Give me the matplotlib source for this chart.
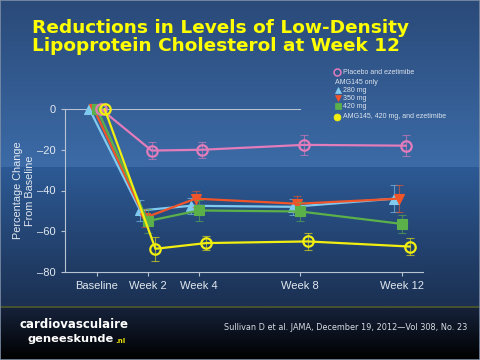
import numpy as np
import matplotlib
matplotlib.use("Agg")
import matplotlib.pyplot as plt
from matplotlib.lines import Line2D
from matplotlib.patches import Rectangle

# data (percentage change from baseline)
weeks = [0, 2, 4, 8, 12]
xlabels = ["Baseline", "Week 2", "Week 4", "Week 8", "Week 12"]
placebo = [0, -20.4, -20.0, -17.6, -18.0]
placebo_err = [0, 4.3, 4.0, 4.8, 5.0]
mg280 = [0, -49.8, -47.5, -48.0, -44.0]
mg280_err = [0, 5.0, 4.0, 4.0, 6.5]
mg350 = [0, -53.4, -44.0, -46.5, -44.0]
mg350_err = [0, 4.5, 4.0, 4.0, 6.5]
mg420 = [0, -55.0, -49.8, -50.3, -56.4]
mg420_err = [0, 6.0, 5.0, 4.5, 4.5]
combo = [0, -68.6, -65.8, -65.0, -67.5]
combo_err = [0, 6.0, 3.5, 4.0, 4.0]

W, H = 480, 360
fig = plt.figure(figsize=(4.8, 3.6), dpi=100)
ARIAL = ["Liberation Sans", "DejaVu Sans"]

# background gradient
def hx(c):
    c = c.lstrip("#")
    return np.array([int(c[i:i+2], 16) for i in (0, 2, 4)]) / 255.0

img = np.zeros((H, 1, 3))
for r in range(H):
    if r <= 166:
        t = r / 166
        c = hx("#2a4a79") * (1 - t) + hx("#3c6ba7") * t
    elif r <= 305:
        t = (r - 167) / 138
        c = hx("#2d5a95") * (1 - t) + hx("#1b3052") * t
    elif r <= 307:
        c = hx("#46522f")
    else:
        t = (r - 308) / 50
        c = hx("#16223a") * (1 - t) + hx("#000000") * t
    img[r, 0] = c
bg = fig.add_axes([0, 0, 1, 1], zorder=-1)
bg.imshow(img, aspect="auto", extent=[0, 1, 0, 1], interpolation="bilinear")
bg.set_xlim(0, 1)
bg.set_ylim(0, 1)
bg.axis("off")
bg.add_patch(Rectangle((0, 0), 1, 1, fill=False, ec="#7d8ea6", lw=1.2))

# title
fig.text(32 / W, 1 - 19 / H, "Reductions in Levels of Low-Density\nLipoprotein Cholesterol at Week 12",
         color="#ffff00", fontsize=13.3, fontweight="bold", va="top", ha="left", linespacing=1.0)

# main axes
ax = fig.add_axes([65 / W, (H - 272) / H, (423 - 65) / W, 163 / H])
ax.patch.set_alpha(0)
ax.set_xlim(-1.26, 12.83)
ax.set_ylim(-80, 0)

axcol = "#b9c4d2"
for s in ["top", "right"]:
    ax.spines[s].set_visible(False)
for s in ["left", "bottom"]:
    ax.spines[s].set_color(axcol)
    ax.spines[s].set_linewidth(0.8)
ax.axhline(0, xmin=0, xmax=(8.0 + 1.26) / 14.09, color=axcol, lw=0.8, zorder=1)

ax.set_xticks(weeks)
ax.set_xticklabels(xlabels, family=ARIAL, fontsize=8)
ax.set_yticks([0, -20, -40, -60, -80])
ax.set_yticklabels(["0", "\u201320", "\u201340", "\u201360", "\u201380"], family=ARIAL, fontsize=8)
ax.tick_params(colors=axcol, labelcolor="#e2e8f0", length=3, width=0.8)
ax.set_ylabel("Percentage Change\nFrom Baseline", color="#e2e8f0", fontsize=7.8, labelpad=2,
              family=ARIAL)

series = [
    (mg280, mg280_err, "#80caf0", "^", -0.3, "#80caf0"),
    (mg350, mg350_err, "#f0552a", "v", -0.12, "#f0552a"),
    (mg420, mg420_err, "#5cb04a", "s", 0.0, "#5cb04a"),
    (placebo, placebo_err, "#e27cba", "o", 0.15, "none"),
    (combo, combo_err, "#f2ee10", "o", 0.3, "none"),
]
for i, (vals, err, col, mk, dx, fc) in enumerate(series):
    xs = [w + dx for w in weeks]
    ax.errorbar(xs[1:], vals[1:], yerr=err[1:], fmt="none", ecolor=col, elinewidth=0.8,
                capsize=3, capthick=0.8, alpha=0.6, zorder=2 + i)
    ax.plot(xs, vals, color=col, lw=1.6, marker=mk, markersize=7.5 if mk != "s" else 7,
             markerfacecolor=fc if fc != "none" else "none", markeredgecolor=col,
             markeredgewidth=1.6 if fc == "none" else 0.8, clip_on=False, zorder=3 + i)

# legend (manual)
lc = "#dde4ee"
def leg(px, py, mk, col, fc, label, tx=343):
    if mk:
        fig.add_artist(Line2D([px / W], [1 - py / H], marker=mk, color=col, markerfacecolor=fc,
                              markeredgecolor=col, markersize=5, markeredgewidth=1.1 if fc == "none" else 0.5,
                              transform=fig.transFigure))
    fig.text(tx / W, 1 - py / H, label, color=lc, fontsize=5.0, va="center", ha="left", family=ARIAL)

leg(337, 72, "o", "#e27cba", "none", "Placebo and ezetimibe")
leg(0, 82, None, None, None, "AMG145 only", tx=335)
leg(338, 90, "^", "#80caf0", "#80caf0", "280 mg")
leg(338, 98, "v", "#f0552a", "#f0552a", "350 mg")
leg(338, 106, "s", "#5cb04a", "#5cb04a", "420 mg")
leg(337, 117, "o", "#f2ee10", "#f2ee10", "AMG145, 420 mg, and ezetimibe")

# footer
fig.text(20 / W, 1 - 324 / H, "cardiovasculaire", color="white", fontsize=8.5, fontweight="bold",
         va="center", ha="left")
fig.text(27 / W, 1 - 339 / H, "geneeskunde", color="white", fontsize=8.2, fontweight="bold",
         va="center", ha="left")
fig.text(115 / W, 1 - 341 / H, ".nl", color="#e8e000", fontsize=5, fontweight="bold",
         va="center", ha="left")
fig.text(467 / W, 1 - 328 / H, "Sullivan D et al. JAMA, December 19, 2012\u2014Vol 308, No. 23",
         color="#d8dde6", fontsize=5.9, va="center", ha="right")

fig.savefig("out.png", dpi=100)
